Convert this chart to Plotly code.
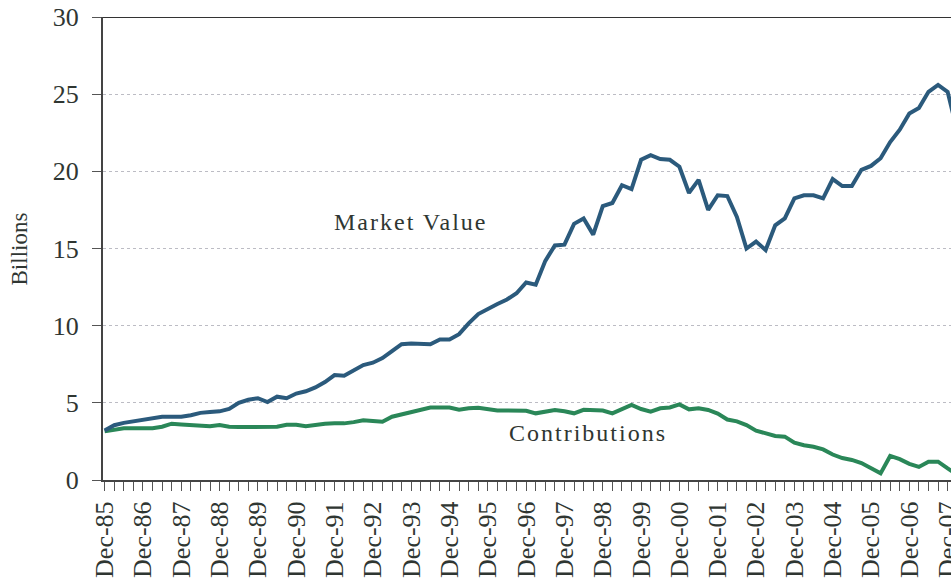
import plotly.graph_objects as go

# Quarterly categories Dec-85 .. Mar-08
months = ["Mar", "Jun", "Sep", "Dec"]
quarters = (["Dec-85"] + [f"{m}-{y % 100:02d}" for y in range(1986, 2009) for m in months])[:90]

market_value = [3.2, 3.55, 3.7, 3.8, 3.95, 4.05, 4.1, 4.1, 4.1, 4.2,
                4.35, 4.4, 4.45, 4.6, 5.0, 5.2, 5.3, 5.05, 5.4, 5.3,
                5.6, 5.75, 6.0, 6.35, 6.8, 6.75, 7.1, 7.45, 7.6, 7.9,
                8.35, 8.8, 8.85, 8.85, 8.8, 9.1, 9.1, 9.45, 10.15, 10.75,
                11.1, 11.4, 11.7, 12.1, 12.8, 12.65, 14.2, 15.2, 15.25, 16.6,
                16.95, 15.9, 17.75, 17.95, 19.1, 18.85, 20.75, 21.05, 20.8, 20.75,
                20.3, 18.6, 19.45, 17.5, 18.45, 18.4, 17.05, 15.0, 15.45, 14.9,
                16.5, 16.95, 18.25, 18.45, 18.45, 18.25, 19.5, 19.05, 19.05, 20.1,
                20.35, 20.85, 21.9, 22.7, 23.75, 24.1, 25.15, 25.6, 25.15, 22.6]

contributions = [3.15, 3.25, 3.35, 3.35, 3.35, 3.35, 3.45, 3.65, 3.6, 3.58,
                 3.56, 3.48, 3.56, 3.45, 3.43, 3.43, 3.43, 3.43, 3.45, 3.58,
                 3.58, 3.48, 3.58, 3.65, 3.67, 3.67, 3.75, 3.87, 3.82, 3.78,
                 4.1, 4.25, 4.4, 4.6, 4.69, 4.69, 4.69, 4.55, 4.65, 4.68,
                 4.6, 4.5, 4.5, 4.5, 4.48, 4.32, 4.42, 4.54, 4.45, 4.32,
                 4.55, 4.55, 4.5, 4.32, 4.6, 4.86, 4.6, 4.43, 4.65, 4.7,
                 4.9, 4.58, 4.65, 4.54, 4.3, 3.92, 3.8, 3.56, 3.2, 3.0,
                 2.85, 2.81, 2.42, 2.25, 2.15, 1.98, 1.65, 1.42, 1.3, 1.1,
                 0.75, 0.43, 1.56, 1.35, 1.05, 0.85, 1.19, 1.19, 0.75, 0.35]

tick_text = [q if q.startswith("Dec") else "" for q in quarters]
y_ticks = [0, 5, 10, 15, 20, 25, 30]

FONT = "Liberation Serif, Times New Roman, serif"
TXT = "#2f3632"

fig = go.Figure()
fig.add_trace(go.Scatter(x=quarters, y=contributions, mode="lines", name="Contributions",
                         line=dict(color="#2a8758", width=4)))
fig.add_trace(go.Scatter(x=quarters, y=market_value, mode="lines", name="Market Value",
                         line=dict(color="#2b5a7c", width=4)))

fig.update_layout(
    width=951, height=579,
    margin=dict(l=103, r=0, t=17, b=99),
    paper_bgcolor="white", plot_bgcolor="white",
    showlegend=False,
    font=dict(family=FONT, color=TXT),
    xaxis=dict(type="category", range=[-0.17, 88.35], tickmode="array",
               tickvals=quarters, ticktext=tick_text, tickangle=-90,
               ticks="outside", ticklen=9, tickwidth=1.2, tickcolor="#555",
               showline=True, linecolor="#444", linewidth=2,
               showgrid=False, automargin=False,
               tickfont=dict(family=FONT, size=26, color=TXT)),
    yaxis=dict(range=[0, 30], tickmode="array", tickvals=y_ticks,
               ticks="outside", ticklen=9, tickwidth=1.2, tickcolor="#555",
               showline=True, linecolor="#444", linewidth=2,
               showgrid=True, gridcolor="#bcbcc4", griddash="3px,3px", gridwidth=1,
               zeroline=False, automargin=False, ticklabelstandoff=8,
               tickfont=dict(family=FONT, size=26, color=TXT)),
    shapes=[dict(type="line", xref="paper", x0=0, x1=1, yref="y", y0=30, y1=30,
                 line=dict(color="#333", width=2))],
    annotations=[
        dict(text='<span style="letter-spacing:2px">Market Value</span>', xref="paper", yref="paper",
             x=0.3632, y=0.557, showarrow=False, xanchor="center", yanchor="middle",
             font=dict(family=FONT, size=24, color=TXT)),
        dict(text='<span style="letter-spacing:2px">Contributions</span>', xref="paper", yref="paper",
             x=0.572, y=0.1015, showarrow=False, xanchor="center", yanchor="middle",
             font=dict(family=FONT, size=24, color=TXT)),
        dict(text="Billions", xref="paper", yref="paper", x=-0.0979, y=0.5, textangle=-90,
             showarrow=False, xanchor="center", yanchor="middle",
             font=dict(family=FONT, size=23, color=TXT)),
    ],
)

fig.write_html("out.html", config={"responsive": False, "displayModeBar": False},
               post_script="document.body.style.margin='0';document.body.style.overflow='hidden';")
